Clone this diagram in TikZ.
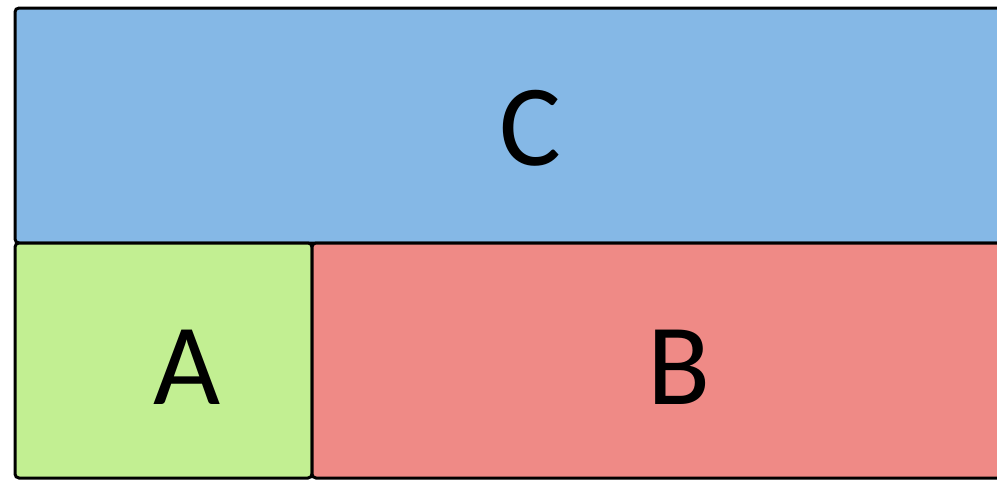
\documentclass[tikz,border=0pt]{standalone}
\usepackage{fontspec}
\setmainfont{Carlito}
\usetikzlibrary{positioning}
\definecolor{partblue}{HTML}{85B8E6}
\definecolor{partgreen}{HTML}{C2EF92}
\definecolor{partred}{HTML}{EF8A86}

\begin{document}
\begin{tikzpicture}[
    x=1pt, y=-1pt,
    part/.style={draw=black, line width=3pt, rounded corners=4pt, inner sep=0pt},
    letter/.style={font=\fontsize{116}{120}\selectfont, inner sep=0pt}
]
\useasboundingbox (0,0) rectangle (997,480);
\node[part, fill=partblue, minimum width=1030pt, minimum height=235pt] (c) at (530,125.5) {};
\node[part, fill=partgreen, minimum width=297pt, minimum height=235pt] (a) at (163.5,360.5) {};
\node[part, fill=partred, minimum width=733pt, minimum height=235pt] (b) at (678.5,360.5) {};
\node[letter] (ctext) at (530,128) {C};
\node[letter] (atext) at (187,367) {A};
\node[letter] (btext) at (679,367) {B};
\end{tikzpicture}
\end{document}
